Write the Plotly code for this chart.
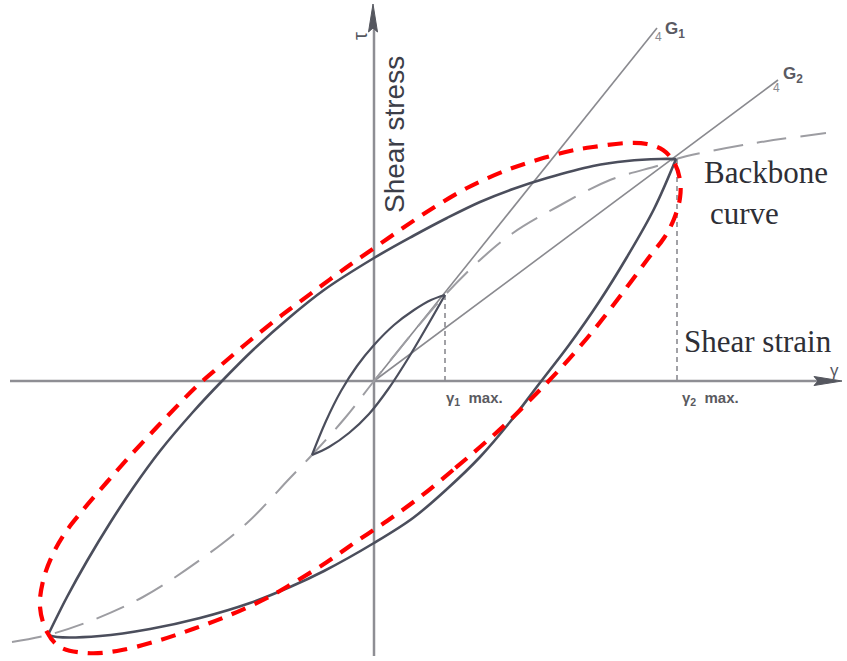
"""Hysteresis loop sketch: backbone curve, two Masing loops, secant moduli G1/G2."""

import plotly.graph_objects as go

# strain / stress, origin at the axes crossing (arbitrary units)
backbone_strain = [-362, -326, -281, -231, -174, -127, -84, -62, -29, 0, 36, 71, 106, 139, 183, 236, 286, 302, 369, 452]
backbone_stress = [-261, -254, -239, -216, -179, -142, -97, -74, -37, 0, 45, 86, 121, 148, 174, 201, 216, 222, 236, 248]

# large loop (gamma2 max)
big_up_strain = [-326, -307, -287, -264, -241, -214, -181, -152, -121, -84, -50, 0, 39, 73, 106, 139, 173, 219, 253, 286, 302]
big_up_stress = [-254, -216, -180, -142, -107, -70, -31, 0, 31, 64, 91, 123, 145, 163, 179, 192, 203, 215, 220, 222, 222]
big_down_strain = [-326, -317, -274, -224, -174, -124, -84, -50, 0, 39, 73, 106, 136, 165, 195, 225, 253, 280, 302]
big_down_stress = [-254, -256, -255, -248, -237, -222, -206, -190, -162, -137, -108, -76, -41, -3, 36, 79, 124, 172, 222]

# small loop (gamma1 max)
small_up_strain = [-62, -48, -33, -17, 0, 20, 40, 57, 71]
small_up_stress = [-74, -40, -10, 15, 36, 56, 71, 81, 86]
small_down_strain = [-62, -45, -25, -5, 15, 35, 55, 71]
small_down_stress = [-74, -66, -52, -33, -7, 24, 58, 86]

# secant moduli
g1_strain = [0, 283]
g1_stress = [0, 353]
g2_strain = [0, 404]
g2_stress = [0, 301]

gamma_max_strain = [71, 303]
gamma_max_stress = [86, 222]

# red highlight around the large loop
ring_strain = [106, 79, 46, 13, -17, -47, -84, -107, -144, -181, -217, -257, -287, -314, -327, -334,
               -331, -322, -309, -291, -267, -244, -217, -194, -177, -154, -127, -101, -84, -61, -34, -7,
               26, 59, 93, 133, 166, 196, 219, 253, 273, 289, 300, 306, 306, 300, 290, 276, 253, 219,
               186, 159, 133, 106]
ring_stress = [-66, -89, -116, -140, -160, -181, -204, -217, -234, -248, -260, -270, -272, -266, -251, -226,
               -200, -175, -152, -129, -101, -75, -46, -22, -5, 15, 38, 59, 72, 89, 109, 128,
               151, 173, 193, 211, 222, 230, 234, 238, 237, 231, 219, 201, 183, 162, 143, 125, 94, 50,
               12, -16, -42, -66]

X_RANGE = [-374, 473]
Y_RANGE = [-280, 381]
AXIS_GREY = "#8e8e94"
LOOP_COLOR = "#4b4e5c"
SERIF = "Liberation Serif, Times New Roman, serif"
SANS = "Liberation Sans, Arial, sans-serif"

fig = go.Figure()


def add_line(x, y, color, width, dash="solid", shape="linear"):
    fig.add_trace(
        go.Scatter(
            x=x, y=y, mode="lines",
            line={"color": color, "width": width, "dash": dash, "shape": shape},
            hoverinfo="skip", showlegend=False,
        )
    )


add_line(g1_strain, g1_stress, "#8a8a8f", 1.6)
add_line(g2_strain, g2_stress, "#8a8a8f", 1.6)
add_line(backbone_strain, backbone_stress, "#9d9da2", 2, dash="30px,14px", shape="spline")
for gx, gy in zip(gamma_max_strain, gamma_max_stress):
    add_line([gx, gx], [gy, 0], "#8a8a90", 1.6, dash="5px,4px")

add_line(big_up_strain, big_up_stress, LOOP_COLOR, 2.6, shape="spline")
add_line(big_down_strain, big_down_stress, LOOP_COLOR, 2.6, shape="spline")
add_line(small_up_strain, small_up_stress, LOOP_COLOR, 2.2, shape="spline")
add_line(small_down_strain, small_down_stress, LOOP_COLOR, 2.2, shape="spline")

add_line(ring_strain, ring_stress, "#ff0000", 4.2, dash="15px,10px", shape="spline")

# axes with narrow arrowheads
shapes = [
    {"type": "line", "x0": -364, "y0": 0, "x1": 445, "y1": 0, "line": {"color": AXIS_GREY, "width": 2.5}},
    {"type": "line", "x0": 0, "y0": -275, "x1": 0, "y1": 355, "line": {"color": AXIS_GREY, "width": 2.5}},
    {"type": "path", "path": "M 468 0 L 440 -4.5 L 444 0 L 440 4.5 Z",
     "fillcolor": "#55575f", "line": {"color": "#55575f", "width": 1}},
    {"type": "path", "path": "M -1 377 L -5.5 349 L -1 353 L 3.5 349 Z",
     "fillcolor": "#55575f", "line": {"color": "#55575f", "width": 1}},
]
for s in shapes:
    s["layer"] = "below"

annotations = [
    {"x": -14, "y": 345, "text": "τ", "textangle": -90, "font": {"family": SANS, "size": 20, "color": "#55575f"}},
    {"x": 20, "y": 246, "text": "Shear stress", "textangle": -90,
     "font": {"family": SANS, "size": 28, "color": "#3c3e48"}},
    {"x": 460, "y": 11, "text": "γ", "font": {"family": SANS, "size": 17, "color": "#55575f"}},
    {"x": 100, "y": -17, "text": "<b>γ<sub>1</sub>  max.</b>", "font": {"family": SANS, "size": 15, "color": "#5a5a60"}},
    {"x": 336, "y": -17, "text": "<b>γ<sub>2</sub>  max.</b>", "font": {"family": SANS, "size": 15, "color": "#5a5a60"}},
    {"x": 301, "y": 351, "text": "<b>G<sub>1</sub></b>", "font": {"family": SANS, "size": 17, "color": "#5a5a62"}},
    {"x": 419, "y": 306, "text": "<b>G<sub>2</sub></b>", "font": {"family": SANS, "size": 17, "color": "#5a5a62"}},
    {"x": 284, "y": 344, "text": "4", "font": {"family": SANS, "size": 12, "color": "#8a8a8f"}},
    {"x": 402, "y": 293, "text": "4", "font": {"family": SANS, "size": 12, "color": "#8a8a8f"}},
    {"x": 392, "y": 209, "text": "Backbone", "font": {"family": SERIF, "size": 31, "color": "#2e2f36"}},
    {"x": 370, "y": 168, "text": "curve", "font": {"family": SERIF, "size": 31, "color": "#2e2f36"}},
    {"x": 308, "y": 40, "text": "Shear strain", "xanchor": "left",
     "font": {"family": SERIF, "size": 31, "color": "#2e2f36"}},
]
for a in annotations:
    a["showarrow"] = False

fig.update_layout(
    width=847,
    height=661,
    margin={"l": 0, "r": 0, "t": 0, "b": 0},
    paper_bgcolor="white",
    plot_bgcolor="white",
    xaxis={"range": X_RANGE, "visible": False, "fixedrange": True},
    yaxis={"range": Y_RANGE, "visible": False, "fixedrange": True},
    shapes=shapes,
    annotations=annotations,
    showlegend=False,
)

fig.write_html(
    "out.html",
    config={"displayModeBar": False},
    post_script="document.body.style.margin = '0px';",
)
